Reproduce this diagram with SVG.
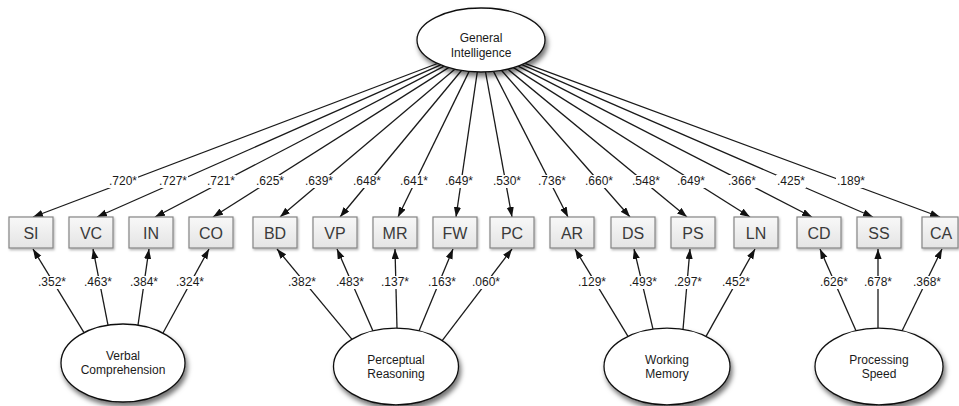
<svg xmlns="http://www.w3.org/2000/svg" width="959" height="406" viewBox="0 0 959 406">
<defs>
  <linearGradient id="boxg" x1="0" y1="0" x2="0" y2="1">
    <stop offset="0" stop-color="#f8f8f8"/>
    <stop offset="1" stop-color="#e4e4e4"/>
  </linearGradient>
  <filter id="eshadow" x="-20%" y="-20%" width="150%" height="160%">
    <feDropShadow dx="2" dy="4" stdDeviation="2.5" flood-color="#000" flood-opacity="0.55"/>
  </filter>
  <filter id="bshadow" x="-10%" y="-10%" width="130%" height="140%">
    <feDropShadow dx="1" dy="1.5" stdDeviation="1.2" flood-color="#000" flood-opacity="0.3"/>
  </filter>
  <marker id="arr" markerUnits="userSpaceOnUse" markerWidth="11" markerHeight="8" refX="10" refY="3.6" orient="auto">
    <path d="M0,0 L10,3.6 L0,7.2 z" fill="#111"/>
  </marker>
</defs>
<style>
  .c { stroke: #1a1a1a; stroke-width: 1.3; fill: none; marker-end: url(#arr); }
  .lb { fill: #fff; stroke: none; }
  .lt { font-family: "Liberation Sans", Arial, sans-serif; font-size: 12px; fill: #1a1a1a; text-anchor: middle; }
  .box { fill: url(#boxg); stroke: #858585; stroke-width: 1.2; filter: url(#bshadow); }
  .bt { font-family: "Liberation Sans", Arial, sans-serif; font-size: 16px; fill: #3a3a3a; text-anchor: middle; }
  .ell { fill: #fff; stroke: #111; stroke-width: 1.3; filter: url(#eshadow); }
  .et { font-family: "Liberation Sans", Arial, sans-serif; font-size: 12px; fill: #1a1a1a; text-anchor: middle; }
</style>
<rect width="959" height="406" fill="#fff"/>

<g id="connectors">
  <line class="c" x1="437.5" y1="63.5" x2="33" y2="217"/>
  <line class="c" x1="440.7" y1="64.9" x2="97" y2="217"/>
  <line class="c" x1="444.2" y1="66.2" x2="155" y2="217"/>
  <line class="c" x1="448.6" y1="67.6" x2="213" y2="217"/>
  <line class="c" x1="454.8" y1="69.2" x2="280" y2="217"/>
  <line class="c" x1="461.5" y1="70.5" x2="340" y2="217"/>
  <line class="c" x1="469.1" y1="71.4" x2="398" y2="217"/>
  <line class="c" x1="477.3" y1="71.9" x2="456" y2="217"/>
  <line class="c" x1="485.5" y1="71.9" x2="512" y2="217"/>
  <line class="c" x1="493.5" y1="71.4" x2="568" y2="217"/>
  <line class="c" x1="501.4" y1="70.3" x2="630" y2="217"/>
  <line class="c" x1="507.7" y1="69.1" x2="687" y2="217"/>
  <line class="c" x1="513.5" y1="67.6" x2="750" y2="217"/>
  <line class="c" x1="518.1" y1="66.1" x2="812" y2="217"/>
  <line class="c" x1="521.8" y1="64.7" x2="873" y2="217"/>
  <line class="c" x1="524.9" y1="63.3" x2="940" y2="217"/>

  <line class="c" x1="84" y1="332.7" x2="33" y2="249"/>
  <line class="c" x1="108" y1="325.2" x2="93" y2="249"/>
  <line class="c" x1="138" y1="325.2" x2="149" y2="249"/>
  <line class="c" x1="163" y1="333" x2="209" y2="249"/>

  <line class="c" x1="352" y1="339.4" x2="277" y2="249"/>
  <line class="c" x1="373" y1="331" x2="337" y2="249"/>
  <line class="c" x1="397" y1="328.4" x2="395" y2="249"/>
  <line class="c" x1="419" y1="331.1" x2="453" y2="249"/>
  <line class="c" x1="442" y1="340.9" x2="512" y2="249"/>

  <line class="c" x1="628" y1="336.4" x2="575" y2="249"/>
  <line class="c" x1="653" y1="329.2" x2="634" y2="249"/>
  <line class="c" x1="683" y1="329.5" x2="690" y2="249"/>
  <line class="c" x1="706" y1="336.4" x2="755" y2="249"/>

  <line class="c" x1="856" y1="330.8" x2="820" y2="249"/>
  <line class="c" x1="878" y1="328.3" x2="878" y2="249"/>
  <line class="c" x1="902" y1="331" x2="942" y2="249"/>

  <g id="labels-top">
    <rect class="lb" x="108" y="175" width="30" height="13"/><text class="lt" x="123" y="185">.720*</text>
    <rect class="lb" x="158" y="175" width="30" height="13"/><text class="lt" x="173" y="185">.727*</text>
    <rect class="lb" x="206" y="175" width="30" height="13"/><text class="lt" x="221" y="185">.721*</text>
    <rect class="lb" x="255" y="175" width="30" height="13"/><text class="lt" x="270" y="185">.625*</text>
    <rect class="lb" x="304" y="175" width="30" height="13"/><text class="lt" x="319" y="185">.639*</text>
    <rect class="lb" x="352" y="175" width="30" height="13"/><text class="lt" x="367" y="185">.648*</text>
    <rect class="lb" x="399" y="175" width="30" height="13"/><text class="lt" x="414" y="185">.641*</text>
    <rect class="lb" x="444" y="175" width="30" height="13"/><text class="lt" x="459" y="185">.649*</text>
    <rect class="lb" x="492" y="175" width="30" height="13"/><text class="lt" x="507" y="185">.530*</text>
    <rect class="lb" x="537" y="175" width="30" height="13"/><text class="lt" x="552" y="185">.736*</text>
    <rect class="lb" x="584" y="175" width="30" height="13"/><text class="lt" x="599" y="185">.660*</text>
    <rect class="lb" x="631" y="175" width="30" height="13"/><text class="lt" x="646" y="185">.548*</text>
    <rect class="lb" x="676" y="175" width="30" height="13"/><text class="lt" x="691" y="185">.649*</text>
    <rect class="lb" x="727" y="175" width="30" height="13"/><text class="lt" x="742" y="185">.366*</text>
    <rect class="lb" x="776" y="175" width="30" height="13"/><text class="lt" x="791" y="185">.425*</text>
    <rect class="lb" x="836" y="175" width="30" height="13"/><text class="lt" x="851" y="185">.189*</text>
  </g>
  <g id="labels-bottom">
    <rect class="lb" x="37" y="276" width="30" height="13"/><text class="lt" x="52" y="286">.352*</text>
    <rect class="lb" x="83" y="276" width="30" height="13"/><text class="lt" x="98" y="286">.463*</text>
    <rect class="lb" x="129" y="276" width="30" height="13"/><text class="lt" x="144" y="286">.384*</text>
    <rect class="lb" x="175" y="276" width="30" height="13"/><text class="lt" x="190" y="286">.324*</text>
    <rect class="lb" x="287" y="276" width="30" height="13"/><text class="lt" x="302" y="286">.382*</text>
    <rect class="lb" x="335" y="276" width="30" height="13"/><text class="lt" x="350" y="286">.483*</text>
    <rect class="lb" x="380" y="276" width="30" height="13"/><text class="lt" x="395" y="286">.137*</text>
    <rect class="lb" x="427" y="276" width="30" height="13"/><text class="lt" x="442" y="286">.163*</text>
    <rect class="lb" x="471" y="276" width="30" height="13"/><text class="lt" x="486" y="286">.060*</text>
    <rect class="lb" x="577" y="276" width="30" height="13"/><text class="lt" x="592" y="286">.129*</text>
    <rect class="lb" x="628" y="276" width="30" height="13"/><text class="lt" x="643" y="286">.493*</text>
    <rect class="lb" x="673" y="276" width="30" height="13"/><text class="lt" x="688" y="286">.297*</text>
    <rect class="lb" x="721" y="276" width="30" height="13"/><text class="lt" x="736" y="286">.452*</text>
    <rect class="lb" x="819" y="276" width="30" height="13"/><text class="lt" x="834" y="286">.626*</text>
    <rect class="lb" x="863" y="276" width="30" height="13"/><text class="lt" x="878" y="286">.678*</text>
    <rect class="lb" x="912" y="276" width="30" height="13"/><text class="lt" x="927" y="286">.368*</text>
  </g>
</g>

<g id="general-intelligence">
  <ellipse class="ell" cx="481" cy="40" rx="64" ry="32"/>
  <text class="et" x="481" y="42">General</text>
  <text class="et" x="481" y="57">Intelligence</text>
</g>

<g id="SI"><rect class="box" x="9" y="217" width="44" height="31"/><text class="bt" x="31" y="239">SI</text></g>
<g id="VC"><rect class="box" x="69" y="217" width="44" height="31"/><text class="bt" x="91" y="239">VC</text></g>
<g id="IN"><rect class="box" x="129" y="217" width="44" height="31"/><text class="bt" x="151" y="239">IN</text></g>
<g id="CO"><rect class="box" x="189" y="217" width="44" height="31"/><text class="bt" x="211" y="239">CO</text></g>
<g id="BD"><rect class="box" x="253" y="217" width="44" height="31"/><text class="bt" x="275" y="239">BD</text></g>
<g id="VP"><rect class="box" x="313" y="217" width="44" height="31"/><text class="bt" x="335" y="239">VP</text></g>
<g id="MR"><rect class="box" x="373" y="217" width="44" height="31"/><text class="bt" x="395" y="239">MR</text></g>
<g id="FW"><rect class="box" x="433" y="217" width="44" height="31"/><text class="bt" x="455" y="239">FW</text></g>
<g id="PC"><rect class="box" x="490" y="217" width="44" height="31"/><text class="bt" x="512" y="239">PC</text></g>
<g id="AR"><rect class="box" x="550" y="217" width="44" height="31"/><text class="bt" x="572" y="239">AR</text></g>
<g id="DS"><rect class="box" x="611" y="217" width="44" height="31"/><text class="bt" x="633" y="239">DS</text></g>
<g id="PS"><rect class="box" x="671" y="217" width="44" height="31"/><text class="bt" x="693" y="239">PS</text></g>
<g id="LN"><rect class="box" x="734" y="217" width="44" height="31"/><text class="bt" x="756" y="239">LN</text></g>
<g id="CD"><rect class="box" x="797" y="217" width="44" height="31"/><text class="bt" x="819" y="239">CD</text></g>
<g id="SS"><rect class="box" x="857" y="217" width="44" height="31"/><text class="bt" x="879" y="239">SS</text></g>
<g id="CA"><rect class="box" x="922" y="217" width="36" height="31"/><text class="bt" x="941" y="239">CA</text></g>

<g id="verbal-comprehension">
  <ellipse class="ell" cx="123" cy="363" rx="62" ry="39"/>
  <text class="et" x="123" y="360">Verbal</text>
  <text class="et" x="123" y="374">Comprehension</text>
</g>
<g id="perceptual-reasoning">
  <ellipse class="ell" cx="396" cy="366.5" rx="62.5" ry="38.3"/>
  <text class="et" x="396" y="364">Perceptual</text>
  <text class="et" x="396" y="378">Reasoning</text>
</g>
<g id="working-memory">
  <ellipse class="ell" cx="667" cy="366.5" rx="63" ry="38.3"/>
  <text class="et" x="667" y="364">Working</text>
  <text class="et" x="667" y="378">Memory</text>
</g>
<g id="processing-speed">
  <ellipse class="ell" cx="879" cy="366.5" rx="64" ry="38.3"/>
  <text class="et" x="879" y="364">Processing</text>
  <text class="et" x="879" y="378">Speed</text>
</g>
</svg>
